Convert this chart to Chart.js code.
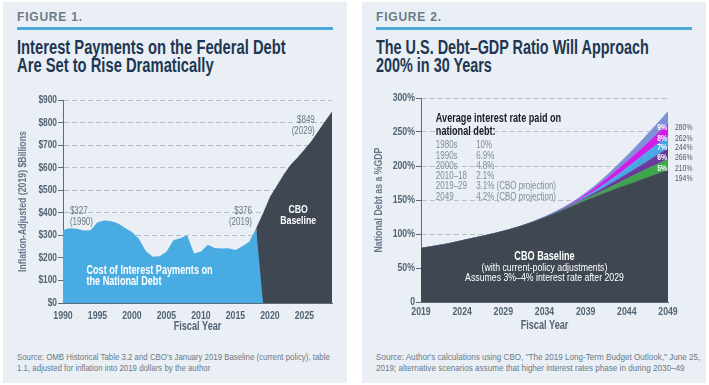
<!DOCTYPE html>
<html>
<head>
<meta charset="utf-8">
<script src="https://cdn.jsdelivr.net/npm/chart.js@4.4.1/dist/chart.umd.min.js"></script>
<style>
  html, body { margin: 0; padding: 0; background: #fff; }
  body { width: 709px; height: 385px; position: relative; overflow: hidden;
         font-family: 'Liberation Sans', Arial, sans-serif; }
  .panel { position: absolute; top: 2px; width: 344px; height: 381px; background: #e9eff4; }
  .fig { position: absolute; left: 14px; top: 9px; font: bold 12px/12px 'Liberation Sans', Arial, sans-serif;
         color: #6b7a88; letter-spacing: 0.8px; }
  .rule { position: absolute; left: 14px; top: 25px; width: 316px; height: 3px; background: #4ea9da; }
  .title { position: absolute; left: 14px; top: 36px; font-weight: bold; font-size: 20px; line-height: 18px;
           color: #1f3752; white-space: nowrap; transform-origin: 0 0; }
  .src { position: absolute; left: 14px; top: 350px; font-size: 9px; line-height: 10.5px; color: #6b7a88;
         white-space: nowrap; transform-origin: 0 0; }
  canvas { position: absolute; }
</style>
</head>
<body>
<div class="panel" style="left:3px">
  <div class="fig">FIGURE 1.</div>
  <div class="rule"></div>
  <div class="title" data-fit="269">Interest Payments on the Federal Debt<br>Are Set to Rise Dramatically</div>
  <div class="src" data-fit="313">Source: OMB Historical Table 3.2 and CBO's January 2019 Baseline (current policy), table<br>1.1, adjusted for inflation into 2019 dollars by the author</div>
</div>
<div class="panel" style="left:362px">
  <div class="fig">FIGURE 2.</div>
  <div class="rule"></div>
  <div class="title" data-fit="273">The U.S. Debt–GDP Ratio Will Approach<br>200% in 30 Years</div>
  <div class="src" data-fit="324">Source: Author's calculations using CBO, "The 2019 Long-Term Budget Outlook," June 25,<br>2019; alternative scenarios assume that higher interest rates phase in during 2030–49</div>
</div>
<canvas id="chartInteres" width="350" height="252" style="left:0;top:88px"></canvas>
<canvas id="chartDeuda" width="354" height="254" style="left:355px;top:86px"></canvas>
<script>
// Figura 1: coste de intereses (miles de millones, dólares 2019)
const histYears = [1990, 1991, 1992, 1993, 1994, 1995, 1996, 1997, 1998, 1999,
  2000, 2001, 2002, 2003, 2004, 2005, 2006, 2007, 2008, 2009,
  2010, 2011, 2012, 2013, 2014, 2015, 2016, 2017, 2018, 2019];
const histCost = [324, 331, 329, 321, 322, 358, 366, 362, 352, 333,
  315, 285, 230, 205, 207, 227, 278, 287, 300, 220,
  228, 258, 244, 242, 243, 235, 252, 272, 331, 0];
const cboYears = [2018, 2019, 2020, 2021, 2022, 2023, 2024, 2025, 2026, 2027, 2028, 2029];
const cboCost = [331, 398, 470, 520, 570, 613, 645, 680, 717, 762, 806, 849];
const leftTickYears = [1990, 1995, 2000, 2005, 2010, 2015, 2020, 2025];

// Figura 2: deuda como % del PIB
const debtYears = [2019, 2022, 2025, 2028, 2031, 2034, 2037, 2040, 2043, 2046, 2049];
const baseline = [79, 85, 93, 101, 111, 124, 139, 154, 168, 181, 194];
const rate5 = [79, 85, 93, 101, 111, 124, 140, 157, 175, 193, 210];
const rate6 = [79, 85, 93, 101, 111, 124, 141, 160, 181, 203, 226];
const rate7 = [79, 85, 93, 101, 111, 125, 142, 163, 188, 216, 244];
const rate8 = [79, 85, 93, 101, 111, 125, 143, 167, 196, 228, 262];
const rate9 = [79, 85, 93, 101, 111, 125, 144, 170, 203, 240, 280];
const rightTickYears = [2019, 2024, 2029, 2034, 2039, 2044, 2049];
const bandLabels = ['9%', '8%', '7%', '6%', '5%'];
const endLabels = ['280%', '262%', '244%', '266%', '210%', '194%'];
const ratePeriods = ['1980s', '1990s', '2000s', '2010–18', '2019–29', '2049'];
const rateValues = ['10%', '6.9%', '4.8%', '2.1%', '3.1% (CBO projection)', '4.2% (CBO projection)'];

// No hay Helvetica condensada: se estrecha el texto a mano
document.querySelectorAll('[data-fit]').forEach(el => {
  el.style.transform = 'scaleX(' + (+el.dataset.fit / el.scrollWidth) + ')';
});
const SQUEEZE = 0.76;
const proto = CanvasRenderingContext2D.prototype;
const fillTextOrig = proto.fillText;
const measureTextOrig = proto.measureText;
proto.fillText = function (text, x, y) {
  this.save();
  this.translate(x, y);
  this.scale(SQUEEZE, 1);
  fillTextOrig.call(this, text, 0, 0);
  this.restore();
};
proto.measureText = function (text) {
  const m = measureTextOrig.call(this, text);
  return {
    width: m.width * SQUEEZE,
    actualBoundingBoxAscent: m.actualBoundingBoxAscent,
    actualBoundingBoxDescent: m.actualBoundingBoxDescent,
    actualBoundingBoxLeft: m.actualBoundingBoxLeft * SQUEEZE,
    actualBoundingBoxRight: m.actualBoundingBoxRight * SQUEEZE
  };
};

const FONT = "'Liberation Sans', Arial, sans-serif";
const AXIS_GRAY = '#526374';
Chart.defaults.font.family = FONT;
Chart.defaults.color = AXIS_GRAY;

function pts(xs, ys) {
  return xs.map((x, i) => ({ x: x, y: ys[i] }));
}

// textos sobre el gráfico, colocados en coordenadas de datos
function textPlugin(items) {
  return {
    id: 'textos',
    afterDatasetsDraw(chart) {
      const { ctx, scales: { x, y } } = chart;
      ctx.save();
      items.forEach(t => {
        ctx.font = t.font;
        ctx.fillStyle = t.color;
        ctx.textAlign = t.align || 'left';
        ctx.textBaseline = 'middle';
        ctx.fillText(t.text, x.getPixelForValue(t.x), y.getPixelForValue(t.y));
      });
      ctx.restore();
    }
  };
}

function axisBase(ticks) {
  return {
    type: 'linear',
    afterBuildTicks: s => { s.ticks = ticks.map(v => ({ value: v })); },
    grid: { display: false, drawTicks: false },
    border: { display: true, color: '#5f6b77', width: 1 },
    ticks: { font: { size: 11.5, weight: 'bold' }, color: AXIS_GRAY, padding: 6, maxRotation: 0, autoSkip: false,
             callback: v => String(v) },
    title: { display: true, text: 'Fiscal Year', font: { size: 12, weight: 'bold' }, color: AXIS_GRAY,
             padding: { top: 0, bottom: 6 } }
  };
}

const GRAY_TXT = '#6a7885';
const REG = '10.5px ' + FONT;
const WB = 'bold 11.5px ' + FONT;
const leftTexts = [
  { text: '$327', x: 1991, y: 408, font: REG, color: GRAY_TXT },
  { text: '(1990)', x: 1991, y: 359, font: REG, color: GRAY_TXT },
  { text: '$376', x: 2017.4, y: 408, font: REG, color: GRAY_TXT, align: 'right' },
  { text: '(2019)', x: 2017.4, y: 359, font: REG, color: GRAY_TXT, align: 'right' },
  { text: '$849', x: 2026.5, y: 811, font: REG, color: GRAY_TXT, align: 'right' },
  { text: '(2029)', x: 2026.5, y: 763, font: REG, color: GRAY_TXT, align: 'right' },
  { text: 'CBO', x: 2024.1, y: 412, font: WB, color: '#fff', align: 'center' },
  { text: 'Baseline', x: 2024.1, y: 364, font: WB, color: '#fff', align: 'center' },
  { text: 'Cost of Interest Payments on', x: 1993.4, y: 142, font: 'bold 12px ' + FONT, color: '#fff' },
  { text: 'the National Debt', x: 1993.4, y: 93, font: 'bold 12px ' + FONT, color: '#fff' }
];

const xLeft = axisBase(leftTickYears);
xLeft.min = 1990; xLeft.max = 2029;
xLeft.afterFit = s => { s.height = 37; };

new Chart(document.getElementById('chartInteres'), {
  type: 'line',
  data: {
    datasets: [
      { data: pts(histYears, histCost), fill: 'origin', backgroundColor: '#48ace2', borderWidth: 0, pointRadius: 0, tension: 0 },
      { data: pts(cboYears, cboCost), fill: 'origin', backgroundColor: '#3e4752', borderWidth: 0, pointRadius: 0, tension: 0 }
    ]
  },
  options: {
    responsive: false, animation: false, devicePixelRatio: 1,
    layout: { padding: { top: 12, right: 18, left: 12, bottom: 0 } },
    plugins: { legend: { display: false }, tooltip: { enabled: false } },
    scales: {
      x: xLeft,
      y: {
        min: 0, max: 900,
        ticks: { stepSize: 100, callback: v => '$' + v, font: { size: 11, weight: 'bold' }, color: AXIS_GRAY, padding: 1 },
        grid: { color: '#b7c0c8', tickColor: '#5f6b77', tickLength: 5 },
        border: { display: true, color: '#5f6b77', dash: [5, 3] },
        title: { display: true, text: 'Inflation-Adjusted (2019) $Billions', font: { size: 11.5, weight: 'bold' }, color: '#66768a', padding: { top: 4, bottom: 0 } },
        afterFit: s => { s.width = 51; }
      }
    }
  },
  plugins: [textPlugin(leftTexts)]
});

const rightTexts = [
  { text: 'Average interest rate paid on', x: 2020.8, y: 269, font: 'bold 12px ' + FONT, color: '#161c24' },
  { text: 'national debt:', x: 2020.8, y: 251, font: 'bold 12px ' + FONT, color: '#161c24' },
  { text: 'CBO Baseline', x: 2034, y: 66, font: 'bold 12px ' + FONT, color: '#fff', align: 'center' },
  { text: '(with current-policy adjustments)', x: 2034, y: 50, font: '11.5px ' + FONT, color: '#fff', align: 'center' },
  { text: 'Assumes 3%–4% interest rate after 2029', x: 2034, y: 35, font: '11.5px ' + FONT, color: '#fff', align: 'center' }
];
const rowY = [231, 215, 200, 185, 171, 154];
ratePeriods.forEach((p, i) => {
  rightTexts.push({ text: p, x: 2020.8, y: rowY[i], font: REG, color: '#808d99' });
  rightTexts.push({ text: rateValues[i], x: 2025.7, y: rowY[i], font: REG, color: '#808d99' });
});
const sideY = [256, 241, 226.5, 212, 197, 182];
bandLabels.forEach((b, i) => {
  rightTexts.push({ text: b, x: 2048.3, y: sideY[i], font: 'bold 9px ' + FONT, color: '#fff', align: 'center' });
});
endLabels.forEach((b, i) => {
  rightTexts.push({ text: b, x: 2049.85, y: sideY[i], font: '9px ' + FONT, color: '#4f5a65' });
});

const xRight = axisBase(rightTickYears);
xRight.min = 2019; xRight.max = 2049;
xRight.afterFit = s => { s.height = 38; };
xRight.ticks.padding = 3;
xRight.title.padding = { top: 0, bottom: 7 };

function band(vals, color, fill) {
  return { data: pts(debtYears, vals), fill: fill, backgroundColor: color, borderColor: color, borderWidth: 0.5,
           pointRadius: 0, cubicInterpolationMode: 'monotone' };
}

new Chart(document.getElementById('chartDeuda'), {
  type: 'line',
  data: {
    datasets: [
      band(baseline, '#3e4752', 'origin'),
      band(rate5, '#3da64a', '-1'),
      band(rate6, '#683a9a', '-1'),
      band(rate7, '#4aa6e4', '-1'),
      band(rate8, '#d11be6', '-1'),
      band(rate9, '#7d90d8', '-1')
    ]
  },
  options: {
    responsive: false, animation: false, devicePixelRatio: 1,
    layout: { padding: { top: 12, right: 41, left: 13, bottom: 0 } },
    plugins: { legend: { display: false }, tooltip: { enabled: false } },
    scales: {
      x: xRight,
      y: {
        min: 0, max: 300,
        ticks: { stepSize: 50, callback: v => v === 0 ? '0' : v + '%', font: { size: 11.5, weight: 'bold' }, color: AXIS_GRAY, padding: 1 },
        grid: { color: '#b7c0c8', tickColor: '#5f6b77', tickLength: 5 },
        border: { display: true, color: '#5f6b77', dash: [5, 3] },
        title: { display: true, text: 'National Debt as a %GDP', font: { size: 11.5, weight: 'bold' }, color: '#66768a', padding: { top: 4, bottom: 0 } },
        afterFit: s => { s.width = 53; }
      }
    }
  },
  plugins: [textPlugin(rightTexts)]
});
</script>
</body>
</html>
